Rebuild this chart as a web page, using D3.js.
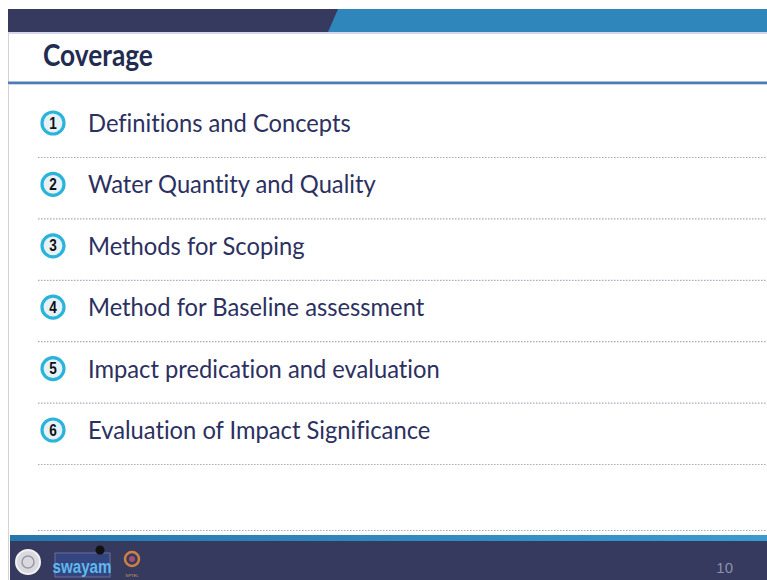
<!DOCTYPE html>
<html lang="en">
<head>
    <meta charset="UTF-8">
    <title>Coverage</title>
    <style>
        body { margin: 0; background: #fff; }
        svg { display: block; }
        text { font-variant-ligatures: none; font-feature-settings: "liga" 0; }
    </style>
    <script src="https://d3js.org/d3.v7.min.js"></script>
</head>
<body>
    <div class="slide"></div>
<script>
    // slide content
    const title = 'Coverage'
    const itemNumbers = ['1', '2', '3', '4', '5', '6']
    const itemLabels = [
        'Definitions and Concepts',
        'Water Quantity and Quality',
        'Methods for Scoping',
        'Method for Baseline assessment',
        'Impact predication and evaluation',
        'Evaluation of Impact Significance'
    ]
    const pageNumber = '10'

    const width = 767, height = 580
    const slideLeft = 10, slideTop = 9

    const svg = d3.select('.slide').append('svg')
        .attr('width', width)
        .attr('height', height)

    const defs = svg.append('defs')
    const grad = defs.append('linearGradient').attr('id', 'band')
    grad.append('stop').attr('offset', '0%').attr('stop-color', '#2576ad')
    grad.append('stop').attr('offset', '100%').attr('stop-color', '#3b9bd1')

    // squeeze helper: horizontal scale around x0
    const squeeze = (sel, x0, k) =>
        sel.attr('transform', `translate(${x0},0) scale(${k},1) translate(${-x0},0)`)

    // top bar
    svg.append('rect')
        .attr('x', slideLeft - 2).attr('y', slideTop)
        .attr('width', width).attr('height', 23)
        .attr('fill', '#363a5f')
    svg.append('path')
        .attr('d', `M338 ${slideTop} H ${width} V 32 H 328 Z`)
        .attr('fill', '#2e86ba')
    svg.append('rect')
        .attr('x', slideLeft - 2).attr('y', 32)
        .attr('width', width).attr('height', 2)
        .attr('fill', '#d6d6ee')

    // left edge of slide
    svg.append('line')
        .attr('x1', slideLeft - 1.5).attr('x2', slideLeft - 1.5)
        .attr('y1', 32).attr('y2', height)
        .attr('stroke', '#d4d4d8').attr('stroke-width', 1)

    // title
    const titleText = svg.append('text')
        .attr('x', 43).attr('y', 66)
        .attr('font-family', 'Lato, sans-serif')
        .attr('font-weight', 700)
        .attr('font-size', 30)
        .attr('fill', '#222b50')
        .text(title)
    squeeze(titleText, 43, 110 / titleText.node().getComputedTextLength())

    svg.append('rect')
        .attr('x', slideLeft - 2).attr('y', 81.5)
        .attr('width', width).attr('height', 2.5)
        .attr('fill', '#4d7db8')
    svg.append('rect')
        .attr('x', slideLeft - 2).attr('y', 84)
        .attr('width', width).attr('height', 1)
        .attr('fill', '#c9d6ea')

    // items
    const y = d3.scalePoint()
        .domain(d3.range(itemLabels.length))
        .range([123, 430])

    const rows = svg.append('g').selectAll('g')
        .data(itemLabels)
        .join('g')
        .attr('transform', (d, i) => `translate(0, ${y(i)})`)

    rows.append('line')
        .attr('x1', 38).attr('x2', width)
        .attr('y1', 34.5).attr('y2', 34.5)
        .attr('stroke', '#a3abbf')
        .attr('stroke-width', 1.2)
        .attr('stroke-dasharray', '1.5,1.5')

    rows.append('circle')
        .attr('cx', 53).attr('cy', 0).attr('r', 11)
        .attr('fill', '#e6f2f7')
        .attr('stroke', '#2bb3da')
        .attr('stroke-width', 3.2)

    const nums = rows.append('text')
        .attr('x', 53).attr('y', 5.5)
        .attr('text-anchor', 'middle')
        .attr('font-family', 'Liberation Sans, Arial, sans-serif')
        .attr('font-weight', 700)
        .attr('font-size', 16)
        .attr('fill', '#111')
        .text((d, i) => itemNumbers[i])
    squeeze(nums, 53, 0.85)

    const labels = rows.append('text')
        .attr('x', 88).attr('y', 9)
        .attr('font-family', 'Lato, sans-serif')
        .attr('font-size', 24.5)
        .attr('fill', '#2b3060')
        .text(d => d)

    // squeeze text to a Calibri-like width, same factor for all rows
    squeeze(labels, 88, 263 / labels.nodes()[0].getComputedTextLength())

    // bottom dotted rule
    svg.append('line')
        .attr('x1', 38).attr('x2', width)
        .attr('y1', 530.5).attr('y2', 530.5)
        .attr('stroke', '#a3abbf')
        .attr('stroke-width', 1.2)
        .attr('stroke-dasharray', '1.5,1.5')

    // footer
    svg.append('rect')
        .attr('x', slideLeft).attr('y', 535)
        .attr('width', width).attr('height', 6)
        .attr('fill', 'url(#band)')
    svg.append('rect')
        .attr('x', slideLeft).attr('y', 541)
        .attr('width', width).attr('height', height - 541)
        .attr('fill', '#363a5f')

    // logos (rough)
    const foot = svg.append('g')
    foot.append('circle').attr('cx', 28).attr('cy', 562).attr('r', 12)
        .attr('fill', '#d9d9df').attr('stroke', '#f2f2f2').attr('stroke-width', 2)
    foot.append('circle').attr('cx', 28).attr('cy', 562).attr('r', 6)
        .attr('fill', 'none').attr('stroke', '#9a9aa6').attr('stroke-width', 1.5)
    foot.append('rect').attr('x', 55).attr('y', 553).attr('width', 55).attr('height', 24)
        .attr('fill', '#33447e').attr('stroke', '#6b6fa0').attr('stroke-width', 1)
    const sw = foot.append('text').attr('x', 82).attr('y', 573)
        .attr('text-anchor', 'middle')
        .attr('font-family', 'Liberation Sans Narrow, Liberation Sans, sans-serif')
        .attr('font-weight', 700)
        .attr('font-size', 19)
        .attr('fill', '#5fb8ec')
        .text('swayam')
    squeeze(sw, 82, 0.8)
    foot.append('circle').attr('cx', 100).attr('cy', 550).attr('r', 4.5).attr('fill', '#111')
    foot.append('circle').attr('cx', 132).attr('cy', 559).attr('r', 7)
        .attr('fill', 'none').attr('stroke', '#d08040').attr('stroke-width', 2.5)
    foot.append('circle').attr('cx', 132).attr('cy', 559).attr('r', 3)
        .attr('fill', '#a05070')
    foot.append('text').attr('x', 132).attr('y', 577)
        .attr('text-anchor', 'middle')
        .attr('font-family', 'Liberation Sans, sans-serif')
        .attr('font-size', 4)
        .attr('fill', '#c8a060')
        .text('NPTEL')

    svg.append('text')
        .attr('x', 733).attr('y', 573)
        .attr('text-anchor', 'end')
        .attr('font-family', 'Liberation Sans Narrow, Liberation Sans, sans-serif')
        .attr('font-size', 15)
        .attr('fill', '#8f91ad')
        .text(pageNumber)
</script>
</body>
</html>
